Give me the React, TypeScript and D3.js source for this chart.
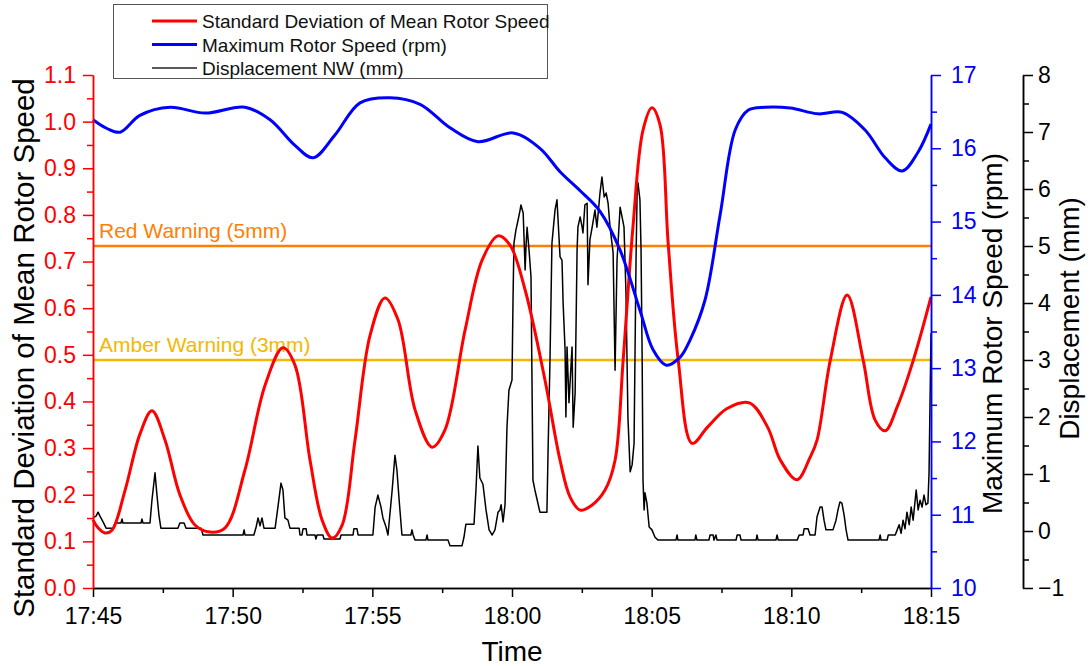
import React, { useEffect, useRef } from "react";
import * as d3 from "d3";

const width = 1090;
const height = 666;
const plot = { left: 93, right: 931, top: 75, bottom: 588 };
const dispAxisX = 1023;
const font = "'Liberation Sans', Arial, Helvetica, sans-serif";

const startTime = new Date(2000, 0, 1, 17, 45);
const at = (m: number) => new Date(startTime.getTime() + m * 60000);

// [minutes after 17:45, std dev]
const stdDevSeries: [number, number][] = [
  [0, 0.146], [0.18, 0.129], [0.43, 0.118], [0.68, 0.124], [1.15, 0.21], [1.68, 0.33],
  [2.11, 0.38], [2.58, 0.317], [3.11, 0.2], [3.65, 0.135], [4.19, 0.12], [4.73, 0.129],
  [5.44, 0.253], [6.16, 0.435], [6.8, 0.515], [7.23, 0.478], [7.77, 0.274], [8.2, 0.146],
  [8.56, 0.107], [8.92, 0.135], [9.38, 0.317], [9.92, 0.542], [10.45, 0.622], [10.92, 0.575],
  [11.53, 0.382], [12.14, 0.302], [12.6, 0.339], [13.32, 0.553], [13.93, 0.703], [14.5, 0.755],
  [14.93, 0.735], [15.47, 0.639], [16.18, 0.446], [16.72, 0.274], [17.08, 0.195], [17.44, 0.167],
  [17.87, 0.178], [18.33, 0.21], [18.69, 0.274], [18.98, 0.489], [19.33, 0.774], [19.69, 0.982],
  [20.01, 1.03], [20.3, 0.993], [20.59, 0.74], [20.95, 0.489], [21.45, 0.31], [22.0, 0.345],
  [22.7, 0.385], [23.5, 0.397], [24.15, 0.345], [24.6, 0.275], [25.2, 0.232], [25.67, 0.28],
  [25.92, 0.317], [26.39, 0.487], [27.0, 0.628], [27.57, 0.489], [28.0, 0.36], [28.36, 0.337],
  [28.8, 0.39], [29.36, 0.487], [30, 0.624],
];

// [minutes after 17:45, rpm]
const maxSpeedSeries: [number, number][] = [
  [0, 16.39], [0.5, 16.27], [0.97, 16.22], [1.68, 16.45], [2.76, 16.56], [4.01, 16.48],
  [5.44, 16.56], [6.34, 16.39], [7.23, 16.04], [7.88, 15.87], [8.66, 16.18], [9.56, 16.62],
  [10.63, 16.69], [11.71, 16.6], [12.78, 16.28], [13.78, 16.09], [15.04, 16.21], [16.0, 16.0],
  [16.72, 15.68], [17.44, 15.42], [18.15, 15.14], [18.87, 14.61], [19.58, 13.79], [20.05, 13.25],
  [20.52, 13.04], [21.02, 13.15], [21.37, 13.38], [21.91, 13.93], [22.45, 15.09], [22.99, 16.25],
  [23.45, 16.52], [24.06, 16.56], [24.96, 16.55], [25.96, 16.47], [26.82, 16.49], [27.64, 16.25],
  [28.36, 15.87], [28.97, 15.69], [29.54, 15.95], [30, 16.33],
];

// [minutes after 17:45, mm]
const displacementSeries: [number, number][] = [
  [0, 0.23], [0.11, 0.26], [0.18, 0.33], [0.25, 0.26], [0.36, 0.16], [0.47, 0.05], [0.72, 0.05],
  [0.79, 0.14], [1.0, 0.14], [1.04, 0.21], [1.07, 0.14], [1.72, 0.14], [1.75, 0.21], [1.79, 0.14],
  [2.04, 0.14], [2.11, 0.54], [2.22, 1.02], [2.29, 0.63], [2.36, 0.28], [2.43, 0.05], [3.04, 0.05],
  [3.11, 0.14], [3.26, 0.14], [3.33, 0.05], [3.87, 0.05], [3.94, -0.07], [5.37, -0.07], [5.41, 0.02],
  [5.44, -0.07], [5.76, -0.07], [5.84, 0.07], [5.91, 0.23], [5.98, 0.09], [6.05, 0.23], [6.12, 0.05],
  [6.52, 0.05], [6.62, 0.42], [6.73, 0.84], [6.8, 0.72], [6.87, 0.23], [6.98, 0.19], [7.05, 0.05],
  [7.38, 0.05], [7.41, -0.07], [7.48, -0.07], [7.52, 0.04], [7.63, 0.04], [7.66, -0.07], [7.95, -0.07],
  [7.98, -0.14], [8.02, -0.07], [8.23, -0.07], [8.27, -0.14], [8.84, -0.14], [8.88, -0.07],
  [9.31, -0.07], [9.34, 0.04], [9.45, 0.04], [9.49, -0.07], [10.02, -0.07], [10.1, 0.42],
  [10.2, 0.63], [10.31, 0.42], [10.38, 0.23], [10.49, 0.07], [10.56, -0.07], [10.71, 0.72],
  [10.81, 1.33], [10.88, 1.07], [10.96, 0.54], [11.06, -0.07], [11.38, -0.07], [11.42, 0.02],
  [11.46, -0.07], [11.53, -0.16], [11.92, -0.16], [11.96, -0.07], [11.99, -0.16], [12.71, -0.16],
  [12.78, -0.26], [13.21, -0.26], [13.28, -0.11], [13.35, 0.12], [13.64, 0.12], [13.71, 0.72],
  [13.78, 1.49], [13.85, 0.93], [13.96, 0.82], [14.07, 0.37], [14.18, 0.02], [14.29, -0.07],
  [14.39, 0.02], [14.5, 0.33], [14.57, 0.37], [14.61, 0.46], [14.68, 0.16], [14.75, 0.46],
  [14.82, 1.82], [14.89, 2.47], [15.0, 2.65], [15.04, 4.18], [15.07, 5.05], [15.14, 5.28],
  [15.22, 5.46], [15.29, 5.63], [15.32, 5.72], [15.4, 5.58], [15.43, 5.16], [15.47, 4.58],
  [15.5, 4.98], [15.54, 5.33], [15.61, 4.93], [15.68, 4.46], [15.75, 0.89], [15.82, 0.72],
  [16.0, 0.33], [16.25, 0.33], [16.29, 1.37], [16.36, 3.0], [16.43, 5.05], [16.54, 5.63],
  [16.61, 5.81], [16.72, 4.81], [16.79, 4.75], [16.83, 4.0], [16.9, 3.18], [16.93, 2.0],
  [16.97, 3.23], [17.04, 2.25], [17.15, 3.23], [17.19, 1.82], [17.26, 2.42], [17.33, 4.93],
  [17.36, 5.33], [17.44, 5.51], [17.51, 5.33], [17.54, 5.23], [17.61, 5.72], [17.69, 5.75],
  [17.72, 4.32], [17.79, 5.11], [17.87, 5.33], [17.97, 5.63], [18.04, 5.33], [18.15, 5.93],
  [18.22, 6.21], [18.3, 5.86], [18.37, 5.93], [18.44, 5.75], [18.51, 5.33], [18.62, 4.88],
  [18.69, 2.82], [18.76, 4.75], [18.87, 5.68], [18.94, 5.51], [19.01, 5.33], [19.08, 4.18],
  [19.15, 2.0], [19.23, 1.04], [19.3, 1.16], [19.37, 1.54], [19.44, 4.75], [19.48, 5.98],
  [19.51, 6.11], [19.58, 5.81], [19.62, 4.93], [19.66, 3.0], [19.69, 0.89], [19.73, 0.37],
  [19.76, 0.67], [19.83, 0.49], [19.91, 0.07], [20.01, 0.02], [20.12, -0.11], [20.23, -0.16],
  [20.87, -0.16], [20.91, -0.07], [20.94, -0.16], [21.55, -0.16], [21.58, -0.07], [21.62, -0.16],
  [22.05, -0.16], [22.09, -0.07], [22.2, -0.07], [22.23, -0.16], [22.3, -0.07], [22.34, -0.16],
  [23.02, -0.16], [23.06, -0.07], [23.16, -0.07], [23.2, -0.16], [23.74, -0.16], [23.77, -0.07],
  [23.81, -0.16], [24.45, -0.16], [24.49, -0.07], [24.53, -0.16], [25.21, -0.16], [25.28, -0.07],
  [25.42, -0.07], [25.46, 0.04], [25.6, 0.04], [25.67, -0.07], [25.85, -0.07], [25.92, 0.25],
  [26.03, 0.42], [26.1, 0.42], [26.17, 0.19], [26.24, 0.02], [26.49, 0.02], [26.6, 0.19],
  [26.67, 0.37], [26.74, 0.51], [26.81, 0.49], [26.89, 0.28], [26.96, 0.02], [27.03, -0.16],
  [28.14, -0.16], [28.18, -0.07], [28.21, -0.16], [28.43, -0.16], [28.47, -0.07], [28.72, -0.07],
  [28.79, 0.02], [28.86, 0.11], [28.93, -0.04], [29.0, 0.19], [29.07, 0.04], [29.14, 0.33],
  [29.22, 0.11], [29.29, 0.42], [29.36, 0.19], [29.47, 0.72], [29.54, 0.37], [29.61, 0.54],
  [29.68, 0.42], [29.75, 0.63], [29.82, 0.46], [29.89, 0.49], [29.93, 1.02], [30.0, 3.47],
];

const warnings = [
  { label: "Red Warning (5mm)", level: 5, color: "#ff8000" },
  { label: "Amber Warning (3mm)", level: 3, color: "#f5b800" },
];

const legendItems = [
  { label: "Standard Deviation of Mean Rotor Speed", color: "#ff0000", width: 3 },
  { label: "Maximum Rotor Speed (rpm)", color: "#0000ff", width: 3 },
  { label: "Displacement NW (mm)", color: "#222", width: 1.5 },
];

const stdDomain = [0, 1.1];
const speedDomain = [10, 17];
const dispDomain = [-1, 8];

const App = () => {
  const ref = useRef<SVGSVGElement>(null);

  useEffect(() => {
    const svg = d3.select(ref.current);
    svg.selectAll("*").remove();

    const x = d3.scaleTime().domain([at(0), at(30)]).range([plot.left, plot.right]);
    const yStd = d3.scaleLinear().domain(stdDomain).range([plot.bottom, plot.top]);
    const ySpeed = d3.scaleLinear().domain(speedDomain).range([plot.bottom, plot.top]);
    const yDisp = d3.scaleLinear().domain(dispDomain).range([plot.bottom, plot.top]);

    const styleAxis = (g: any, color: string) => {
      g.attr("font-family", font).attr("font-size", 23);
      g.selectAll("path, line").attr("stroke", color).attr("stroke-width", 1.5);
      g.selectAll("text").attr("fill", color);
    };

    // warning levels
    warnings.forEach((w) => {
      svg.append("line")
        .attr("x1", plot.left).attr("x2", plot.right)
        .attr("y1", yDisp(w.level)).attr("y2", yDisp(w.level))
        .attr("stroke", w.color).attr("stroke-width", 2.5);
      svg.append("text")
        .attr("x", plot.left + 6).attr("y", yDisp(w.level) - 8)
        .attr("font-family", font).attr("font-size", 21)
        .attr("fill", w.color).text(w.label);
    });

    // series
    svg.append("path")
      .datum(displacementSeries)
      .attr("fill", "none").attr("stroke", "#000").attr("stroke-width", 1.5)
      .attr("stroke-linejoin", "round")
      .attr("d", d3.line<[number, number]>().x((d) => x(at(d[0]))).y((d) => yDisp(d[1])));

    svg.append("path")
      .datum(stdDevSeries)
      .attr("fill", "none").attr("stroke", "#ff0000").attr("stroke-width", 3)
      .attr("d", d3.line<[number, number]>().curve(d3.curveCatmullRom.alpha(0.5))
        .x((d) => x(at(d[0]))).y((d) => yStd(d[1])));

    svg.append("path")
      .datum(maxSpeedSeries)
      .attr("fill", "none").attr("stroke", "#0000ff").attr("stroke-width", 3)
      .attr("d", d3.line<[number, number]>().curve(d3.curveCatmullRom.alpha(0.5))
        .x((d) => x(at(d[0]))).y((d) => ySpeed(d[1])));

    // x axis
    svg.append("g").attr("transform", `translate(0,${plot.bottom})`)
      .call(d3.axisBottom(x).tickValues(d3.range(2.5, 30, 5).map(at)).tickFormat(() => "").tickSize(5).tickSizeOuter(0))
      .call((g) => styleAxis(g, "#000"));
    svg.append("g").attr("transform", `translate(0,${plot.bottom})`)
      .call(d3.axisBottom(x).tickValues(d3.range(0, 31, 5).map(at)).tickFormat(d3.timeFormat("%H:%M") as any)
        .tickSize(9).tickSizeOuter(0).tickPadding(11))
      .call((g) => styleAxis(g, "#000"));

    // left axis
    svg.append("g").attr("transform", `translate(${plot.left},0)`)
      .call(d3.axisLeft(yStd).tickValues(d3.range(0.05, 1.1, 0.1)).tickFormat(() => "").tickSize(6).tickSizeOuter(0))
      .call((g) => styleAxis(g, "#ff0000"));
    svg.append("g").attr("transform", `translate(${plot.left},0)`)
      .call(d3.axisLeft(yStd).ticks(11).tickFormat(d3.format(".1f")).tickSize(10).tickSizeOuter(0).tickPadding(7))
      .call((g) => styleAxis(g, "#ff0000"));

    // right speed axis
    svg.append("g").attr("transform", `translate(${plot.right},0)`)
      .call(d3.axisRight(ySpeed).tickValues(d3.range(10.5, 17, 1)).tickFormat(() => "").tickSize(6).tickSizeOuter(0))
      .call((g) => styleAxis(g, "#0000ff"));
    svg.append("g").attr("transform", `translate(${plot.right},0)`)
      .call(d3.axisRight(ySpeed).ticks(7).tickFormat(d3.format("d")).tickSize(10).tickSizeOuter(0).tickPadding(10))
      .call((g) => styleAxis(g, "#0000ff"));

    // displacement axis
    svg.append("g").attr("transform", `translate(${dispAxisX},0)`)
      .call(d3.axisRight(yDisp).tickValues(d3.range(-0.5, 8, 1)).tickFormat(() => "").tickSize(6).tickSizeOuter(0))
      .call((g) => styleAxis(g, "#000"));
    svg.append("g").attr("transform", `translate(${dispAxisX},0)`)
      .call(d3.axisRight(yDisp).ticks(9).tickFormat(d3.format("d")).tickSize(10).tickSizeOuter(0).tickPadding(5))
      .call((g) => styleAxis(g, "#000"));

    // axis titles
    const mid = (plot.top + plot.bottom) / 2;
    svg.append("text")
      .attr("transform", `translate(34,${348}) rotate(-90)`)
      .attr("text-anchor", "middle").attr("font-family", font).attr("font-size", 29.5)
      .text("Standard Deviation of Mean Rotor Speed");
    svg.append("text")
      .attr("transform", `translate(1002,${mid + 2}) rotate(-90)`)
      .attr("text-anchor", "middle").attr("font-family", font).attr("font-size", 28)
      .text("Maximum Rotor Speed (rpm)");
    svg.append("text")
      .attr("transform", `translate(1079,${mid - 13}) rotate(-90)`)
      .attr("text-anchor", "middle").attr("font-family", font).attr("font-size", 28)
      .text("Displacement (mm)");
    svg.append("text")
      .attr("x", (plot.left + plot.right) / 2).attr("y", 661)
      .attr("text-anchor", "middle").attr("font-family", font).attr("font-size", 28)
      .text("Time");

    // legend
    const legend = svg.append("g");
    legend.append("rect")
      .attr("x", 113.5).attr("y", 4.5).attr("width", 434).attr("height", 74)
      .attr("fill", "#fff").attr("stroke", "#555").attr("stroke-width", 1);
    legendItems.forEach((item, i) => {
      const y = 21 + i * 23.5;
      legend.append("line")
        .attr("x1", 152).attr("x2", 197).attr("y1", y).attr("y2", y)
        .attr("stroke", item.color).attr("stroke-width", item.width);
      legend.append("text")
        .attr("x", 202).attr("y", y + 7)
        .attr("font-family", font).attr("font-size", 19).attr("fill", "#111")
        .text(item.label);
    });
  }, []);

  return (
    <svg
      ref={ref}
      width={width}
      height={height}
      style={{ position: "absolute", left: 0, top: 0, background: "#fff" }}
    />
  );
};

export default App;
